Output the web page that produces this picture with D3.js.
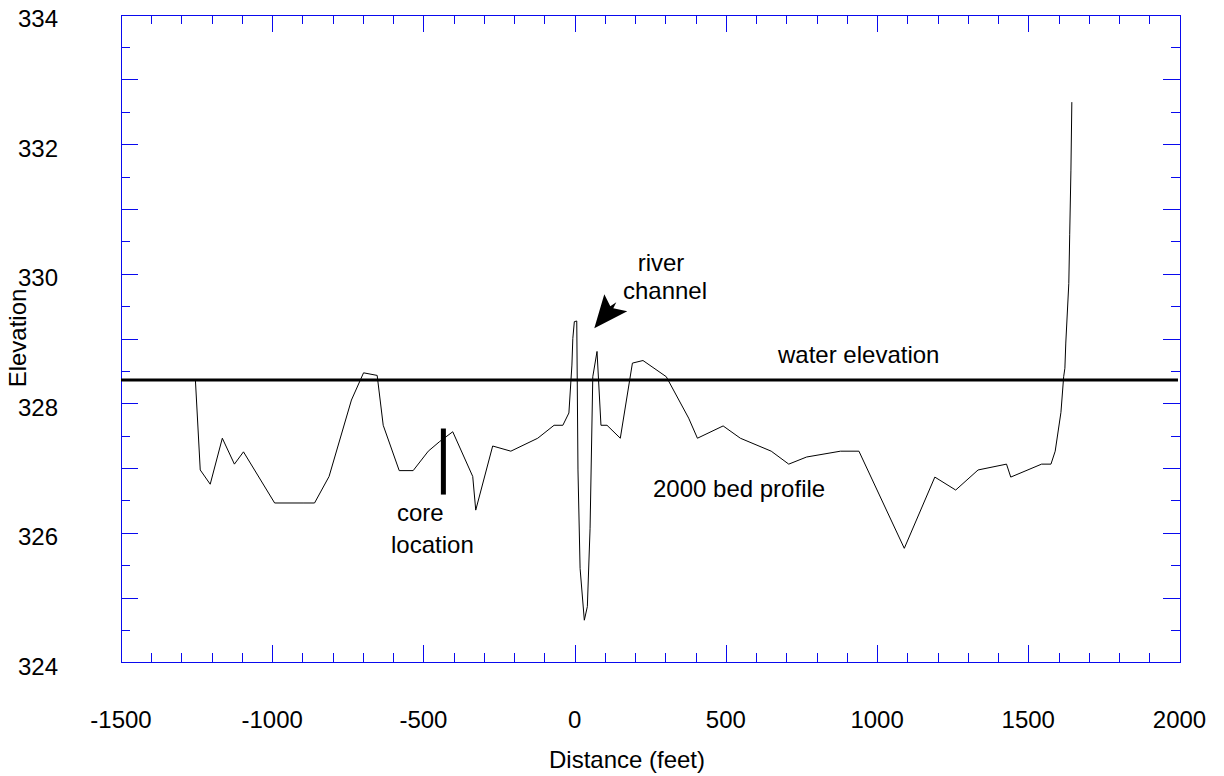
<!DOCTYPE html>
<html>
<head>
<meta charset="utf-8">
<script src="https://cdn.jsdelivr.net/npm/d3@7"></script>
<style>
  body { margin: 0; background: #fff; }
  text { font-family: "Liberation Sans", Arial, sans-serif; fill: #000; }
</style>
</head>
<body>
<div id="viz"></div>
<script>
// 2000 bed profile
var distance = [-1254, -1238, -1205, -1165, -1125, -1095, -992, -898, -860, -812,
    -738, -698, -653, -633, -580, -534, -484, -446, -403, -337,
    -327, -271, -211, -122, -68, -39, -19, -9, -6, -1,
    7, 11, 18, 32, 42, 51, 60, 74, 87, 107,
    151, 191, 226, 303, 377, 406, 491, 548, 650, 708,
    767, 879, 940, 1090, 1191, 1260, 1334, 1428, 1442, 1544,
    1575, 1589, 1608, 1617, 1621, 1624, 1634, 1637, 1641, 1644]
var elevation = [328.36, 326.97, 326.75, 327.46, 327.06, 327.25, 326.46, 326.46, 326.46, 326.87,
    328.05, 328.47, 328.43, 327.66, 326.96, 326.96, 327.26, 327.41, 327.56, 326.87,
    326.35, 327.34, 327.26, 327.46, 327.66, 327.66, 327.85, 328.59, 329.0, 329.26,
    329.27, 326.97, 325.45, 324.65, 324.86, 326.07, 328.41, 328.80, 327.66, 327.66,
    327.46, 328.62, 328.66, 328.41, 327.77, 327.46, 327.65, 327.46, 327.26, 327.06,
    327.17, 327.26, 327.26, 325.76, 326.86, 326.66, 326.97, 327.06, 326.86, 327.06,
    327.06, 327.26, 327.86, 328.41, 328.54, 328.93, 329.85, 330.61, 331.60, 332.65]

var waterElevation = 328.36
var waterExtent = [-1500, 1995]
var coreDistance = -434
var coreRange = [326.59, 327.61]
var arrowTip = [65, 329.16]

var xTickValues = [-1500, -1000, -500, 0, 500, 1000, 1500, 2000]
var yTickValues = [324, 326, 328, 330, 332, 334]

var width = 1224,
    height = 776,
    plotLeft = 121, plotRight = 1179.5,
    plotTop = 14.7, plotBottom = 662.3,
    axisColour = '#0a0aee'

var xScale = d3.scaleLinear().domain([-1500, 2000]).range([plotLeft, plotRight])
var yScale = d3.scaleLinear().domain([324, 334]).range([plotBottom, plotTop])

var svg = d3.select('#viz').append('svg')
    .attr('width', width)
    .attr('height', height)

svg.append('rect')
    .attr('width', width).attr('height', height).attr('fill', '#fff')

// ticks point inwards on every side, minor ones shorter
function frameAxis(axisFn, scale, values, size, pos) {
    var g = svg.append('g')
        .attr('transform', pos)
        .call(axisFn(scale).tickValues(values).tickSize(-size).tickSizeOuter(0).tickFormat(''))
    g.selectAll('line').attr('stroke', axisColour)
    g.select('.domain').attr('stroke', axisColour)
    g.attr('shape-rendering', 'crispEdges')
    return g
}

var xMinor = d3.range(-1500, 2001, 100)
var xMajor = d3.range(-1500, 2001, 500)
var yMinor = d3.range(324, 334.01, 0.5)
var yMajor = d3.range(324, 334.01, 1)

frameAxis(d3.axisBottom, xScale, xMinor, 9, 'translate(0,' + plotBottom + ')')
frameAxis(d3.axisBottom, xScale, xMajor, 17, 'translate(0,' + plotBottom + ')')
frameAxis(d3.axisTop, xScale, xMinor, 9, 'translate(0,' + plotTop + ')')
frameAxis(d3.axisTop, xScale, xMajor, 17, 'translate(0,' + plotTop + ')')
frameAxis(d3.axisLeft, yScale, yMinor, 9, 'translate(' + plotLeft + ',0)')
frameAxis(d3.axisLeft, yScale, yMajor, 17, 'translate(' + plotLeft + ',0)')
frameAxis(d3.axisRight, yScale, yMinor, 9, 'translate(' + plotRight + ',0)')
frameAxis(d3.axisRight, yScale, yMajor, 17, 'translate(' + plotRight + ',0)')

// tick labels
svg.selectAll('.xlab').data(xTickValues).enter().append('text')
    .attr('class', 'xlab')
    .attr('x', function(d) { return xScale(d) })
    .attr('y', plotBottom + 66)
    .attr('text-anchor', 'middle')
    .style('font-size', '24px')
    .text(function(d) { return d })

svg.selectAll('.ylab').data(yTickValues).enter().append('text')
    .attr('class', 'ylab')
    .attr('x', 58)
    .attr('y', function(d) { return yScale(d) + 12.5 })
    .attr('text-anchor', 'end')
    .style('font-size', '24px')
    .text(function(d) { return d })

svg.append('text')
    .attr('x', 627).attr('y', 768)
    .attr('text-anchor', 'middle')
    .style('font-size', '24px')
    .text('Distance (feet)')

svg.append('text')
    .attr('transform', 'translate(26,338) rotate(-90)')
    .attr('text-anchor', 'middle')
    .style('font-size', '24px')
    .text('Elevation')

// water level
svg.append('line')
    .attr('x1', xScale(waterExtent[0])).attr('x2', xScale(waterExtent[1]))
    .attr('y1', yScale(waterElevation)).attr('y2', yScale(waterElevation))
    .attr('stroke', '#000')
    .attr('stroke-width', 3)

// bed profile
var line = d3.line()
    .x(function(d, i) { return xScale(distance[i]) })
    .y(function(d) { return yScale(d) })

svg.append('path')
    .datum(elevation)
    .attr('d', line)
    .attr('fill', 'none')
    .attr('stroke', '#000')
    .attr('stroke-width', 1)

// core marker
svg.append('line')
    .attr('x1', xScale(coreDistance)).attr('x2', xScale(coreDistance))
    .attr('y1', yScale(coreRange[0])).attr('y2', yScale(coreRange[1]))
    .attr('stroke', '#000')
    .attr('stroke-width', 5)

// arrow to the channel (notched head)
var tx = xScale(arrowTip[0]), ty = yScale(arrowTip[1])
svg.append('path')
    .attr('d', 'M' + tx + ',' + ty +
        'L' + (tx + 10) + ',' + (ty - 34) +
        'L' + (tx + 16) + ',' + (ty - 22) +
        'L' + (tx + 22) + ',' + (ty - 26) +
        'L' + (tx + 19) + ',' + (ty - 20) +
        'L' + (tx + 33) + ',' + (ty - 17) + 'Z')
    .attr('fill', '#000')

// annotations
var notes = [
    { t: 'water elevation', x: 778, y: 363, a: 'start' },
    { t: '2000 bed profile', x: 653, y: 497, a: 'start' },
    { t: 'core', x: 397, y: 521, a: 'start' },
    { t: 'location', x: 391, y: 553, a: 'start' },
    { t: 'river', x: 661, y: 271, a: 'middle' },
    { t: 'channel', x: 665, y: 299, a: 'middle' }
]
svg.selectAll('.note').data(notes).enter().append('text')
    .attr('class', 'note')
    .attr('x', function(d) { return d.x })
    .attr('y', function(d) { return d.y })
    .attr('text-anchor', function(d) { return d.a })
    .style('font-size', '24px')
    .text(function(d) { return d.t })
</script>
</body>
</html>
